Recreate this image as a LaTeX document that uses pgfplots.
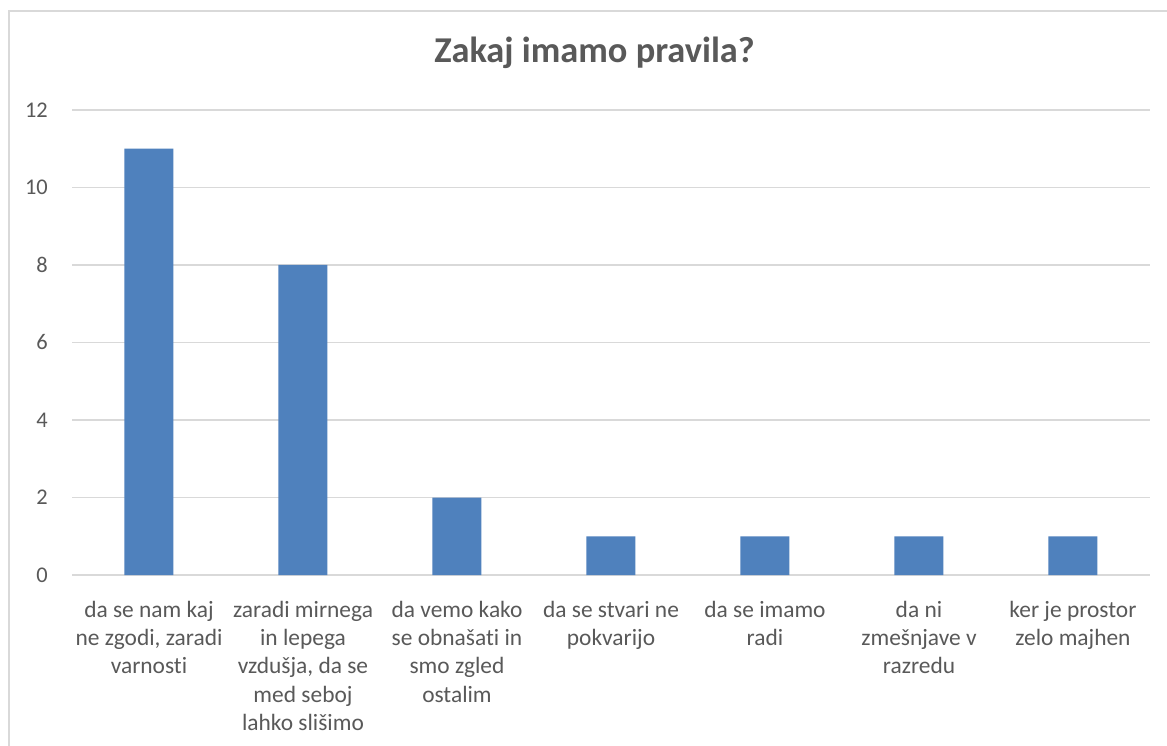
\documentclass[border=0pt]{standalone}
\usepackage{fontspec}
\setmainfont[Ligatures=NoCommon]{Carlito}
\usepackage{pgfplots}
\pgfplotsset{compat=1.18}
\definecolor{barc}{HTML}{4F81BD}
\definecolor{txt}{HTML}{595959}
\definecolor{gridc}{HTML}{D9D9D9}
\begin{document}
\begin{tikzpicture}
\useasboundingbox (-72bp,-171bp) rectangle (1095bp,575bp);
\fill[white] (-72bp,-171bp) rectangle (1095bp,575bp);
\draw[gridc, line width=1.5bp] (-63bp,-175bp) -- (-63bp,564bp) -- (1100bp,564bp);
\node[anchor=base, text=txt, font=\fontsize{36.5}{42}\selectfont\bfseries] at (522.5bp,512bp) {Zakaj imamo pravila?};
\begin{axis}[
  scale only axis, width=1078bp, height=465bp,
  at={(0,0)}, anchor=south west,
  xmin=-0.5, xmax=6.5, ymin=0, ymax=12,
  ytick={0,2,...,12},
  xtick={0,...,6},
  xticklabels={{da se nam kaj\\ne zgodi, zaradi\\varnosti},
               {zaradi mirnega\\in lepega\\vzdušja, da se\\med seboj\\lahko slišimo},
               {da vemo kako\\se obnašati in\\smo zgled\\ostalim},
               {da se stvari ne\\pokvarijo},
               {da se imamo\\radi},
               {da ni\\zmešnjave v\\razredu},
               {ker je prostor\\zelo majhen}},
  axis line style={draw=none},
  major tick length=0pt,
  ymajorgrids,
  grid style={gridc, line width=1.2bp},
  /pgf/number format/assume math mode=true,
  yticklabel style={font=\fontsize{22.5}{26}\selectfont, text=txt, anchor=east, inner sep=0pt, xshift=-24bp},
  xticklabel style={font=\fontsize{23.5}{28.3}\selectfont, text=txt, align=center, anchor=north, inner sep=0pt, yshift=-26bp},
  clip=false,
]
\addplot[ybar, bar width=49bp, fill=barc, draw=none] coordinates {(0,11) (1,8) (2,2) (3,1) (4,1) (5,1) (6,1)};
\end{axis}
\end{tikzpicture}
\end{document}
